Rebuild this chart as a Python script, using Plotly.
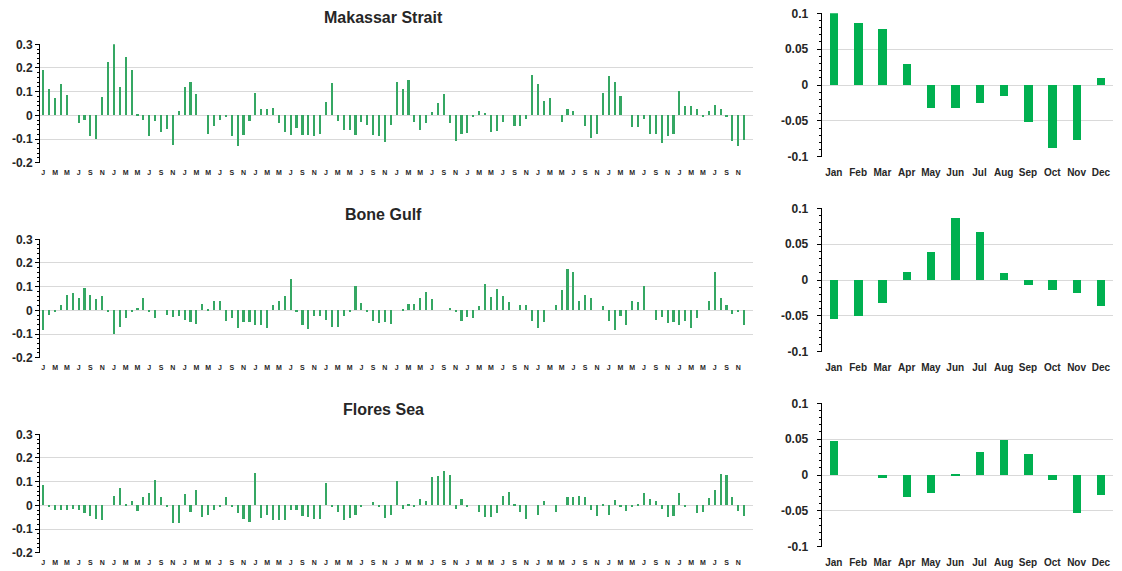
import plotly.graph_objects as go

# Monthly anomalies, 10 years (Jan..Dec per row)
makassar = [
    0.19, 0.11, 0.07, 0.13, 0.085, 0.0, -0.035, -0.02, -0.09, -0.1, 0.075, 0.225,
    0.3, 0.12, 0.245, 0.19, 0.003, -0.02, -0.09, -0.025, -0.07, -0.06, -0.125, 0.015,
    0.12, 0.14, 0.087, 0.0, -0.08, -0.045, -0.02, -0.01, -0.09, -0.13, -0.085, -0.025,
    0.095, 0.025, 0.025, 0.03, -0.035, -0.07, -0.085, -0.055, -0.085, -0.085, -0.09, -0.08,
    0.055, 0.135, -0.025, -0.065, -0.065, -0.085, -0.03, -0.04, -0.085, -0.09, -0.115, -0.04,
    0.14, 0.11, 0.15, -0.03, -0.065, -0.035, 0.012, 0.05, 0.09, -0.035, -0.11, -0.078,
    -0.075, -0.005, 0.015, 0.01, -0.07, -0.068, -0.03, 0.0, -0.045, -0.045, -0.015, 0.17,
    0.13, 0.06, 0.072, 0.0, -0.028, 0.025, 0.015, 0.0, -0.048, -0.098, -0.08, 0.095,
    0.165, 0.138, 0.08, 0.0, -0.05, -0.05, -0.015, -0.08, -0.08, -0.12, -0.088, -0.078,
    0.1, 0.037, 0.037, 0.025, -0.01, 0.015, 0.042, 0.025, -0.008, -0.11, -0.13, -0.105,
]
bone = [
    -0.085, -0.02, -0.005, 0.02, 0.065, 0.07, 0.05, 0.095, 0.065, 0.045, 0.06, -0.01,
    -0.1, -0.07, -0.035, -0.005, 0.01, 0.05, -0.01, -0.035, 0.0, -0.02, -0.03, -0.025,
    -0.04, -0.05, -0.06, 0.025, 0.005, 0.04, 0.04, -0.045, -0.035, -0.075, -0.05, -0.05,
    -0.065, -0.065, -0.075, 0.02, 0.04, 0.06, 0.13, -0.01, -0.065, -0.08, -0.025, -0.025,
    -0.04, -0.07, -0.07, -0.025, -0.01, 0.1, 0.03, -0.005, -0.045, -0.055, -0.05, -0.06,
    0.0, 0.003, 0.025, 0.025, 0.05, 0.075, 0.045, 0.0, 0.0, 0.01, -0.005, -0.045,
    -0.03, -0.035, 0.015, 0.11, 0.055, 0.09, 0.06, 0.035, 0.0, 0.02, 0.02, -0.045,
    -0.075, -0.05, 0.0, 0.02, 0.085, 0.175, 0.16, 0.04, 0.065, 0.05, 0.0, 0.015,
    -0.045, -0.085, -0.025, -0.065, 0.04, 0.035, 0.1, 0.0, -0.04, -0.03, -0.055, -0.05,
    -0.065, -0.045, -0.075, -0.035, 0.0, 0.04, 0.16, 0.05, 0.02, -0.015, -0.005, -0.065,
]
flores = [
    0.085, -0.01, -0.02, -0.02, -0.02, -0.015, -0.02, -0.035, -0.045, -0.06, -0.065, 0.0,
    0.04, 0.07, 0.005, 0.015, -0.025, 0.035, 0.05, 0.105, 0.035, -0.01, -0.075, -0.075,
    0.045, -0.03, 0.065, -0.05, -0.04, -0.02, -0.01, 0.035, -0.005, -0.035, -0.06, -0.07,
    0.135, -0.055, -0.04, -0.065, -0.065, -0.065, -0.02, -0.02, -0.045, -0.05, -0.06, -0.06,
    0.095, -0.005, -0.03, -0.065, -0.055, -0.04, -0.01, 0.0, 0.012, -0.01, -0.055, -0.04,
    0.1, -0.015, 0.005, -0.005, 0.025, 0.015, 0.12, 0.122, 0.145, 0.125, -0.015, 0.025,
    -0.01, 0.0, -0.03, -0.05, -0.05, -0.035, 0.04, 0.055, 0.005, -0.03, -0.06, 0.0,
    -0.04, 0.015, 0.0, -0.03, 0.0, 0.035, 0.035, 0.04, 0.035, -0.02, -0.045, 0.005,
    -0.04, 0.02, -0.01, -0.025, -0.01, 0.005, 0.05, 0.025, 0.015, -0.015, -0.05, -0.045,
    0.05, -0.005, 0.0, -0.035, -0.03, 0.03, 0.065, 0.13, 0.125, 0.035, -0.025, -0.045,
]

# Mean seasonal cycle per month
months = ["Jan", "Feb", "Mar", "Apr", "May", "Jun", "Jul", "Aug", "Sep", "Oct", "Nov", "Dec"]
makassar_clim = [0.1, 0.086, 0.077, 0.029, -0.032, -0.033, -0.025, -0.016, -0.052, -0.088, -0.077, 0.009]
bone_clim = [-0.055, -0.05, -0.032, 0.011, 0.039, 0.086, 0.067, 0.01, -0.008, -0.015, -0.018, -0.036]
flores_clim = [0.047, 0.0, -0.004, -0.031, -0.026, -0.002, 0.031, 0.048, 0.029, -0.008, -0.053, -0.029]

titles = ["Makassar Strait", "Bone Gulf", "Flores Sea"]
month_letters = ["J", "M", "M", "J", "S", "N"]
left_ticks = [-0.2, -0.1, 0, 0.1, 0.2, 0.3]
left_ticktext = ["-0.2", "-0.1", "0", "0.1", "0.2", "0.3"]
right_ticks = [-0.1, -0.05, 0, 0.05, 0.1]
right_ticktext = ["-0.1", "-0.05", "0", "0.05", "0.1"]

W, H = 1122, 571
FONT = "Liberation Sans"
GRID = "#d9d9d9"
LEFT_GREEN = "#35a763"
RIGHT_GREEN = "#00b050"


def xd(a, b):
    return [a / W, b / W]


def yd(top, bottom):
    return [1 - bottom / H, 1 - top / H]


fig = go.Figure()

series = [makassar, bone, flores]
clims = [makassar_clim, bone_clim, flores_clim]
left_rows = [(44.3, 162.7), (239.3, 357.7), (434.3, 552.7)]
right_rows = [(13.3, 156.7), (208.3, 351.7), (403.3, 546.7)]
title_y = [18, 214, 409]

n = len(makassar)
idx = list(range(n))
tick_pos = [i for i in idx if i % 2 == 0]
tick_lab = [month_letters[(i % 12) // 2] for i in tick_pos]

layout = {}
for r in range(3):
    lx = "x%d" % (2 * r + 1)
    ly = "y%d" % (2 * r + 1)
    rx = "x%d" % (2 * r + 2)
    ry = "y%d" % (2 * r + 2)

    fig.add_trace(go.Bar(x=idx, y=series[r], width=0.36, marker=dict(color=LEFT_GREEN, line=dict(width=0)),
                         xaxis=lx, yaxis=ly, showlegend=False))
    fig.add_trace(go.Bar(x=list(range(12)), y=clims[r], width=0.35, marker=dict(color=RIGHT_GREEN, line=dict(width=0)),
                         xaxis=rx, yaxis=ry, showlegend=False))

    lk = "xaxis" if r == 0 else "xaxis%d" % (2 * r + 1)
    lyk = "yaxis" if r == 0 else "yaxis%d" % (2 * r + 1)
    rk = "xaxis%d" % (2 * r + 2)
    ryk = "yaxis%d" % (2 * r + 2)

    t, b = left_rows[r]
    layout[lk] = dict(domain=xd(40, 753), anchor=ly, range=[-0.56, 120.5], showgrid=False, zeroline=False,
                      tickvals=tick_pos, ticktext=tick_lab, ticks="", showline=False, automargin=False,
                      ticklabelstandoff=4,
                      tickfont=dict(family=FONT, size=7, color="#262626", weight="bold"), tickangle=0)
    layout[lyk] = dict(domain=yd(t, b), anchor=lx, range=[-0.2, 0.3], tickvals=left_ticks, ticktext=left_ticktext,
                       showgrid=True, gridcolor=GRID, gridwidth=1, zeroline=True, zerolinecolor=GRID, zerolinewidth=1,
                       showline=True, linecolor="#000", linewidth=1, ticks="outside", ticklen=4, tickcolor="#000",
                       automargin=False,
                       minor=dict(ticks="outside", ticklen=2, tickcolor="#000", dtick=0.02, tick0=0, showgrid=False),
                       tickfont=dict(family=FONT, size=12, color="#262626", weight="bold"))

    t, b = right_rows[r]
    layout[rk] = dict(domain=xd(821.7, 1113), anchor=ry, range=[-0.5, 11.5], showgrid=False, zeroline=False,
                      tickvals=list(range(12)), ticktext=months, ticks="", showline=False, ticklabelstandoff=8,
                      automargin=False,
                      tickfont=dict(family=FONT, size=10, color="#262626", weight="bold"), tickangle=0)
    layout[ryk] = dict(domain=yd(t, b), anchor=rx, range=[-0.1, 0.1], tickvals=right_ticks, ticktext=right_ticktext,
                       showgrid=True, gridcolor=GRID, gridwidth=1, zeroline=True, zerolinecolor=GRID, zerolinewidth=1,
                       showline=True, linecolor="#000", linewidth=1, ticks="outside", ticklen=4, tickcolor="#000",
                       automargin=False,
                       minor=dict(ticks="outside", ticklen=2, tickcolor="#000", dtick=0.01, tick0=0, showgrid=False),
                       tickfont=dict(family=FONT, size=12, color="#262626", weight="bold"), ticklabelstandoff=6)

annotations = [
    dict(text="<b>%s</b>" % titles[r], x=383 / W, y=1 - title_y[r] / H, xref="paper", yref="paper",
         xanchor="center", yanchor="middle", showarrow=False,
         font=dict(family=FONT, size=16, color="#262626"))
    for r in range(3)
]

fig.update_layout(width=W, height=H, margin=dict(l=0, r=0, t=0, b=0, autoexpand=False), paper_bgcolor="white",
                  plot_bgcolor="white", bargap=0, annotations=annotations, **layout)

fig.write_html("out.html")
